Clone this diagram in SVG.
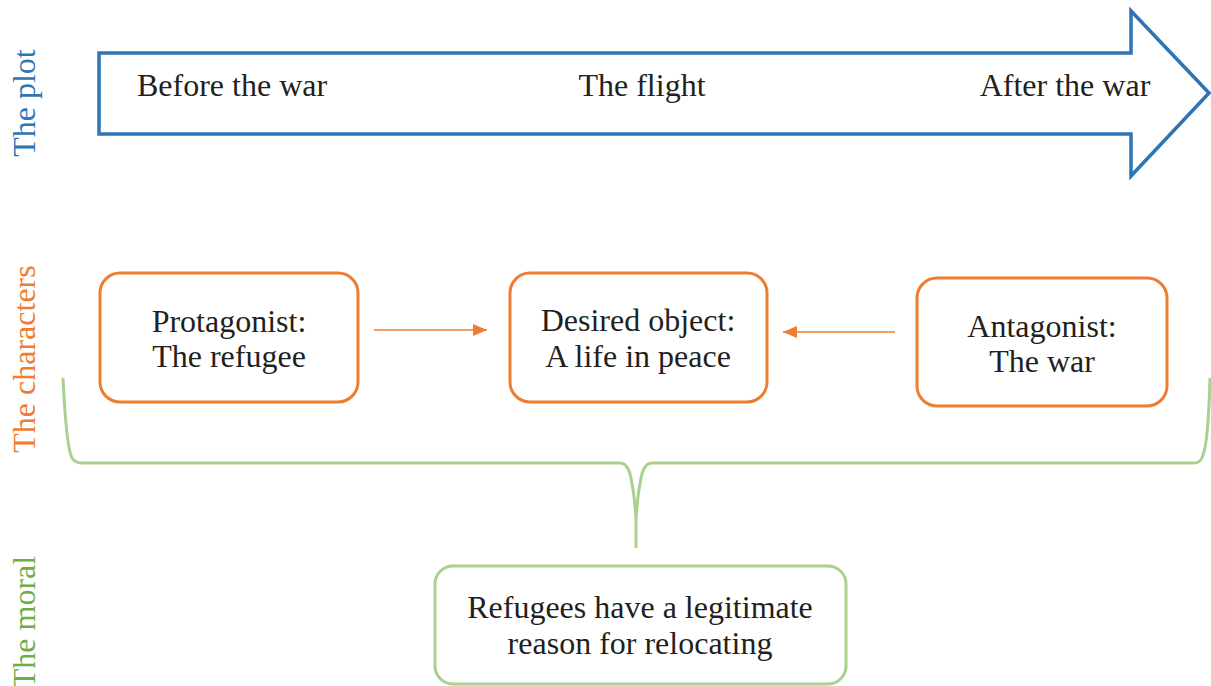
<svg xmlns="http://www.w3.org/2000/svg" width="1211" height="686" viewBox="0 0 1211 686">
  <style>
    text { font-family: "Liberation Serif", "Times New Roman", serif; font-size: 32px; fill: #231f20; }
    .side { text-anchor: middle; }
    .c { text-anchor: middle; }
    .blue { fill: #2e75b6; }
    .orange { fill: #ed7d31; }
    .green { fill: #70ad47; }
    .obox { fill: #ffffff; stroke: #ed7d31; stroke-width: 3; }
    .gbox { fill: #ffffff; stroke: #a9d18e; stroke-width: 3; }
    .conn { stroke: #ed7d31; stroke-width: 1.5; fill: none; }
  </style>
  <defs>
    <marker id="head" viewBox="0 0 14 12" refX="14" refY="6" markerWidth="14" markerHeight="12" markerUnits="userSpaceOnUse" orient="auto">
      <path d="M0,0 L14,6 L0,12 z" fill="#ed7d31"/>
    </marker>
  </defs>

  <!-- row labels -->
  <text class="side blue" transform="translate(35,103) rotate(-90)">The plot</text>
  <text class="side orange" transform="translate(35,359) rotate(-90)">The characters</text>
  <text class="side green" transform="translate(35,622) rotate(-90)">The moral</text>

  <!-- plot timeline arrow -->
  <g id="plot">
    <path d="M99,53 L1131,53 L1131,11 L1209,93 L1131,176 L1131,134 L99,134 Z" fill="#ffffff" stroke="#2e75b6" stroke-width="3.5" stroke-linejoin="miter"/>
    <text x="137" y="96">Before the war</text>
    <text class="c" x="642" y="96">The flight</text>
    <text class="c" x="1065" y="96">After the war</text>
  </g>

  <!-- characters -->
  <g id="protagonist">
    <rect class="obox" x="100" y="273" width="258" height="129" rx="20"/>
    <text class="c" x="229" y="332">Protagonist:</text>
    <text class="c" x="229" y="367">The refugee</text>
  </g>
  <g id="desired-object">
    <rect class="obox" x="510" y="273" width="257" height="129" rx="20"/>
    <text class="c" x="638" y="331">Desired object:</text>
    <text class="c" x="638" y="367">A life in peace</text>
  </g>
  <g id="antagonist">
    <rect class="obox" x="917" y="278" width="250" height="128" rx="20"/>
    <text class="c" x="1042" y="337">Antagonist:</text>
    <text class="c" x="1042" y="372">The war</text>
  </g>

  <!-- connectors -->
  <g id="connectors">
    <line class="conn" x1="374" y1="330" x2="487" y2="330" marker-end="url(#head)"/>
    <line class="conn" x1="895" y1="332" x2="783" y2="332" marker-end="url(#head)"/>
    <path d="M63,378 C65,420 68,450 72,458 Q75,463 82,463 L620,463 Q628,463 631,478 Q635,498 636,520 L636,548 M636,520 Q637,498 641,478 Q644,463 652,463 L1194,463 Q1201,463 1203,455 C1207,445 1209,415 1210,378" fill="none" stroke="#a9d18e" stroke-width="3"/>
  </g>

  <!-- moral -->
  <g id="moral">
    <rect class="gbox" x="435" y="566" width="411" height="118" rx="18"/>
    <text class="c" x="640" y="618">Refugees have a legitimate</text>
    <text class="c" x="640" y="654">reason for relocating</text>
  </g>
</svg>
